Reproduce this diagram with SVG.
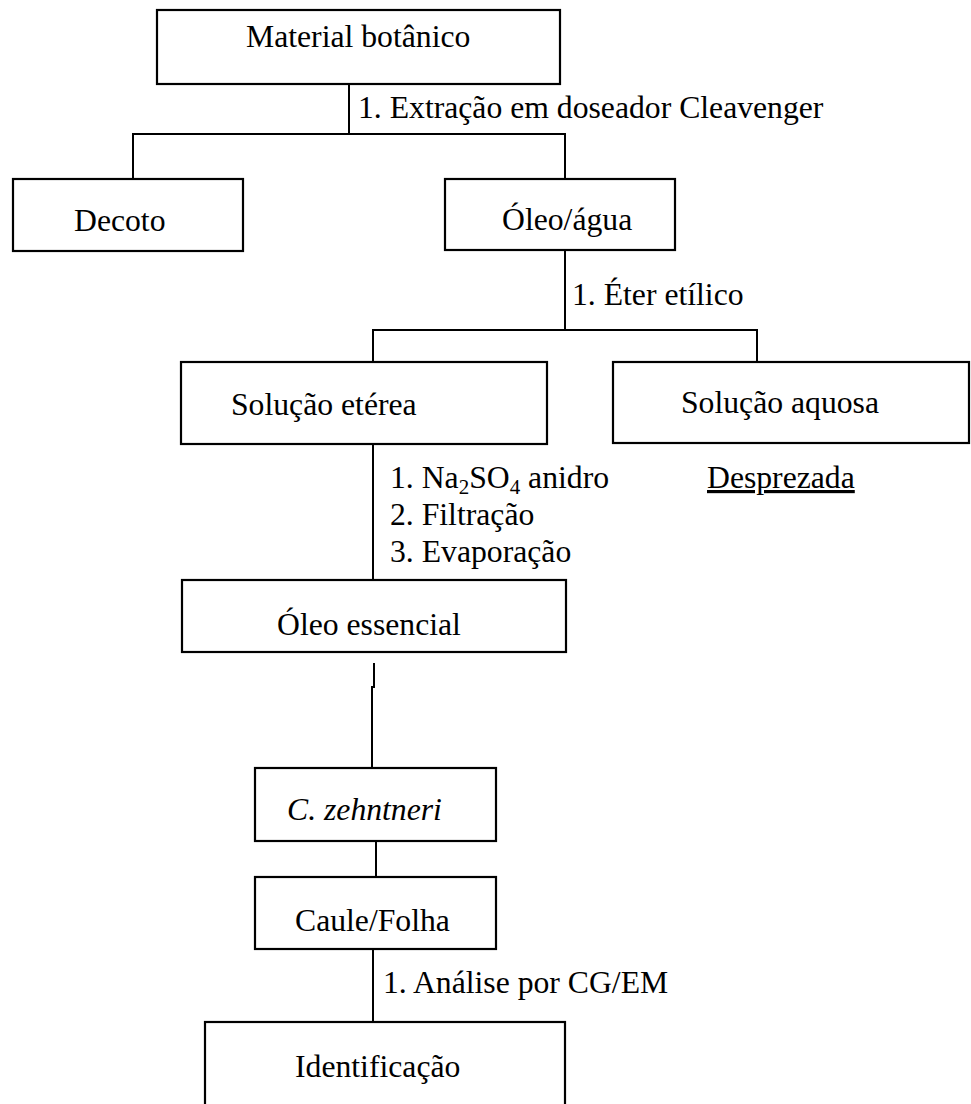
<svg xmlns="http://www.w3.org/2000/svg" width="971" height="1104" viewBox="0 0 971 1104">
<style>
.box{fill:#fff;stroke:#000;stroke-width:2.2}
.ln{stroke:#000;stroke-width:2;fill:none}
text{font-family:"Liberation Serif","Times New Roman",serif;font-size:31.7px;fill:#000}
.sub{font-size:21px}
</style>
<rect width="971" height="1104" fill="#fff"/>
<g id="connectors">
<line class="ln" x1="349" y1="84" x2="349" y2="134"/>
<line class="ln" x1="133" y1="134" x2="565" y2="134"/>
<line class="ln" x1="133" y1="133" x2="133" y2="180"/>
<line class="ln" x1="565" y1="133" x2="565" y2="180"/>
<line class="ln" x1="565" y1="250" x2="565" y2="330"/>
<line class="ln" x1="373" y1="330" x2="757" y2="330"/>
<line class="ln" x1="373" y1="329" x2="373" y2="362"/>
<line class="ln" x1="757" y1="329" x2="757" y2="362"/>
<line class="ln" x1="373" y1="444" x2="373" y2="580"/>
<line class="ln" x1="374" y1="663" x2="374" y2="688"/>
<line class="ln" x1="372" y1="686" x2="372" y2="768"/>
<line class="ln" x1="376" y1="841" x2="376" y2="877"/>
<line class="ln" x1="373" y1="949" x2="373" y2="1022"/>
<text x="358" y="118">1. Extração em doseador Cleavenger</text>
<text x="572" y="305">1. Éter etílico</text>
<text x="390" y="488">1. Na<tspan class="sub" dy="6">2</tspan><tspan dy="-6">SO</tspan><tspan class="sub" dy="6">4</tspan><tspan dy="-6"> anidro</tspan></text>
<text x="390" y="525">2. Filtração</text>
<text x="390" y="562">3. Evaporação</text>
<text x="383" y="993">1. Análise por CG/EM</text>
</g>
<g id="material">
<rect class="box" x="157" y="10" width="403" height="74"/>
<text x="246" y="47">Material botânico</text>
</g>
<g id="decoto">
<rect class="box" x="13" y="179" width="230" height="72"/>
<text x="74" y="231">Decoto</text>
</g>
<g id="oleo-agua">
<rect class="box" x="445" y="179" width="230" height="71"/>
<text x="502" y="230">Óleo/água</text>
</g>
<g id="solucao-eterea">
<rect class="box" x="181" y="362" width="366" height="82"/>
<text x="231" y="415">Solução etérea</text>
</g>
<g id="solucao-aquosa">
<rect class="box" x="613" y="362" width="356" height="81"/>
<text x="681" y="413">Solução aquosa</text>
</g>
<g id="desprezada">
<text x="707" y="488" text-decoration="underline">Desprezada</text>
</g>
<g id="oleo-essencial">
<rect class="box" x="182" y="580" width="384" height="72"/>
<text x="277" y="635">Óleo essencial</text>
</g>
<g id="c-zehntneri">
<rect class="box" x="255" y="768" width="241" height="73"/>
<text x="287" y="820" font-style="italic">C. zehntneri</text>
</g>
<g id="caule-folha">
<rect class="box" x="255" y="877" width="241" height="72"/>
<text x="295" y="931">Caule/Folha</text>
</g>
<g id="identificacao">
<rect class="box" x="205" y="1022" width="360" height="100"/>
<text x="295" y="1077">Identificação</text>
</g>
</svg>
